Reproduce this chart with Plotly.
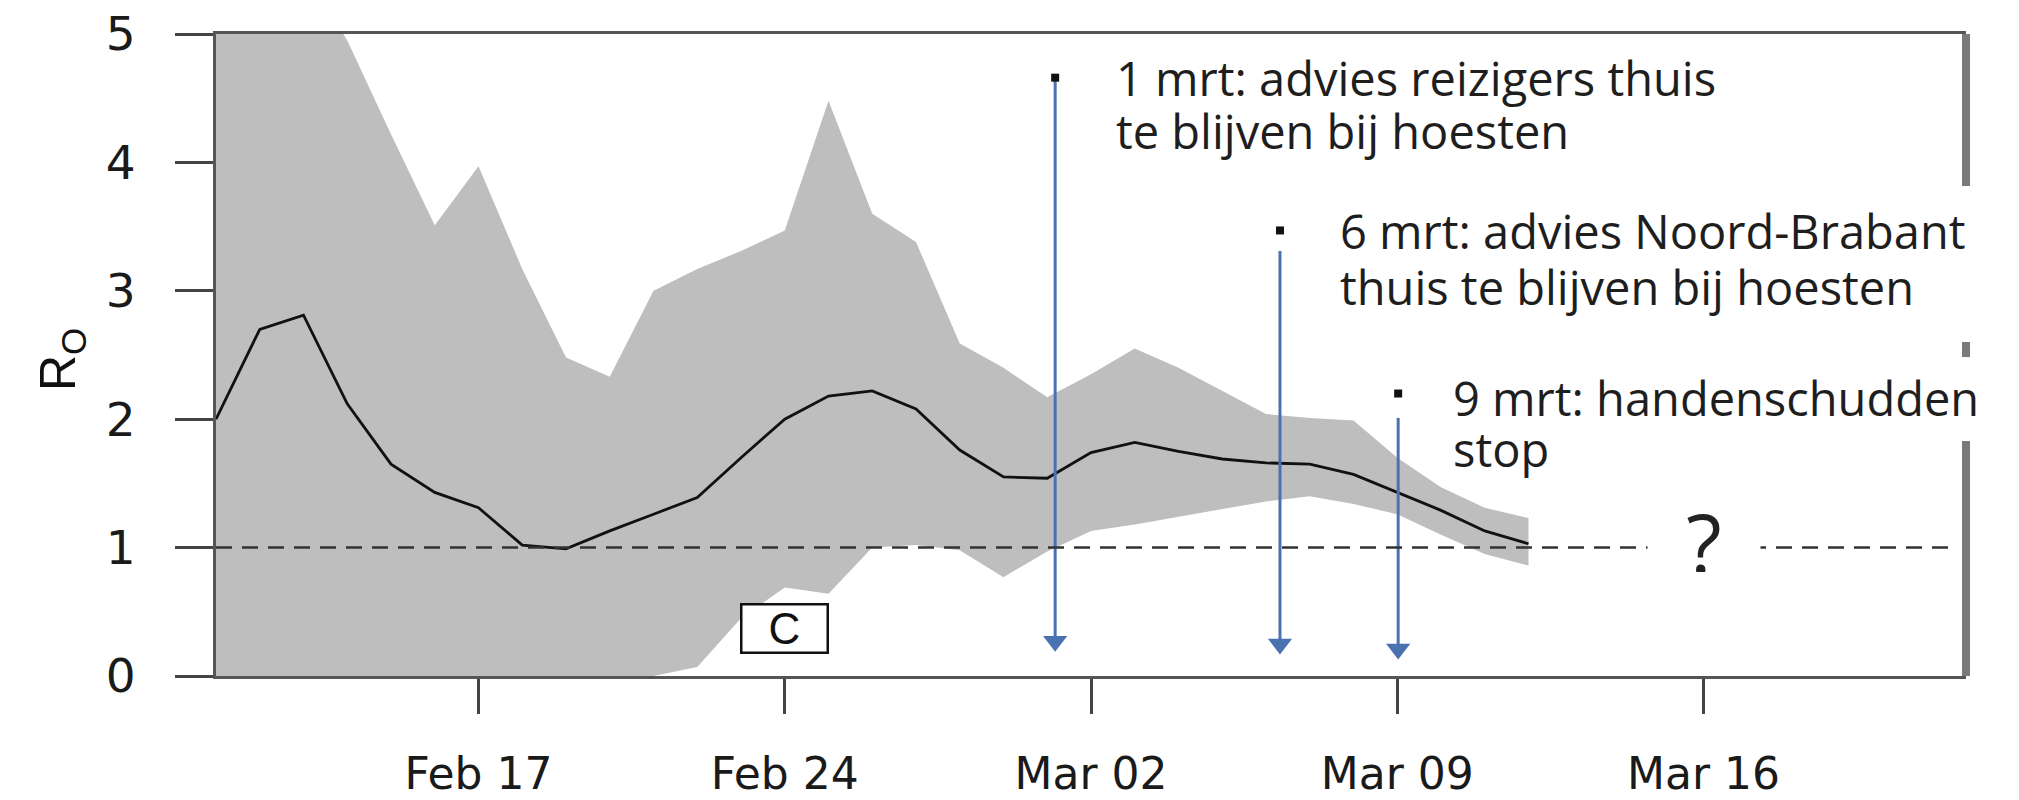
import plotly.graph_objects as go
import pandas as pd

# ---------------- data ----------------
dates = pd.date_range("2020-02-11", "2020-03-12", freq="D").strftime("%Y-%m-%d").tolist()
r_median = [2.00, 2.70, 2.81, 2.12, 1.65, 1.43, 1.31, 1.02, 0.99, 1.13,
            1.26, 1.39, 1.70, 2.00, 2.18, 2.22, 2.08, 1.76, 1.55, 1.54,
            1.74, 1.82, 1.75, 1.69, 1.66, 1.65, 1.57, 1.43, 1.29, 1.13, 1.03]
r_upper = [6.50, 6.20, 5.50, 4.95, 4.22, 3.51, 3.97, 3.17, 2.48, 2.33,
           3.00, 3.17, 3.31, 3.47, 4.48, 3.60, 3.38, 2.59, 2.40, 2.17,
           2.35, 2.55, 2.40, 2.22, 2.04, 2.01, 1.99, 1.70, 1.47, 1.31, 1.23]
r_lower = [0.00, 0.00, 0.00, 0.00, 0.00, 0.00, 0.00, 0.00, 0.00, 0.00,
           0.00, 0.07, 0.45, 0.69, 0.64, 1.00, 1.02, 0.98, 0.77, 0.97,
           1.13, 1.18, 1.24, 1.30, 1.36, 1.40, 1.34, 1.26, 1.10, 0.95, 0.86]

x_range = ["2020-02-11", "2020-03-22"]
y_range = [0, 5]
y_tick_vals = [0, 1, 2, 3, 4, 5]
x_tick_vals = ["2020-02-17", "2020-02-24", "2020-03-02", "2020-03-09", "2020-03-16"]
x_tick_text = ["Feb 17", "Feb 24", "Mar 02", "Mar 09", "Mar 16"]
threshold = 1.0

event_dates = ["2020-03-01 04:20", "2020-03-06 07:40", "2020-03-09 00:30"]
event_tail = [4.64, 3.31, 2.01]     # top of each arrow shaft
event_head = [0.27, 0.25, 0.21]     # arrow-head position
event_dot = [4.66, 3.47, 2.20]      # small black bullet above each arrow
event_lines = [
    ["1 mrt: advies reizigers thuis", "te blijven bij hoesten"],
    ["6 mrt: advies Noord-Brabant", "thuis te blijven bij hoesten"],
    ["9 mrt: handenschudden", "stop"],
]
box_c_date = "2020-02-24"
box_c_value = 0.37
question_date = "2020-03-16"
question_value = 1.04

# ---------------- layout geometry ----------------
# The page body has an 8px default margin, so the figure is drawn 8px smaller
# and all reference pixel positions are shifted by that offset.
BODY = 8
W, H = 2019 - BODY, 800 - BODY
REF_L, REF_R, REF_T, REF_B = 216, 1966, 34, 676   # plot area in page pixels
ML, MT = REF_L - BODY, REF_T - BODY
MR = W - (REF_R - BODY)
MB = H - (REF_B - BODY)
PW = REF_R - REF_L
PH = REF_B - REF_T


def px_x(px):
    return (px - REF_L) / PW


def px_y(py):
    return (REF_B - py) / PH


TXT_FONT = "Open Sans"
TXT_SIZE = 47
TXT_COLOR = "#1e1e1e"
BLUE = "#4a72b0"
TICK_FONT = "DejaVu Sans"

fig = go.Figure()

# confidence band
fig.add_trace(go.Scatter(x=dates, y=r_lower, mode="lines", line=dict(width=0),
                         hoverinfo="skip", showlegend=False))
fig.add_trace(go.Scatter(x=dates, y=r_upper, mode="lines", line=dict(width=0),
                         fill="tonexty", fillcolor="#bebebe",
                         hoverinfo="skip", showlegend=False))
# median
fig.add_trace(go.Scatter(x=dates, y=r_median, mode="lines",
                         line=dict(color="#111111", width=2.8),
                         showlegend=False))

# event arrows: shafts + heads
shaft_x, shaft_y = [], []
for d, t, h in zip(event_dates, event_tail, event_head):
    shaft_x += [d, d, None]
    shaft_y += [t, h, None]
fig.add_trace(go.Scatter(x=shaft_x, y=shaft_y, mode="lines",
                         line=dict(color=BLUE, width=3),
                         hoverinfo="skip", showlegend=False))
fig.add_trace(go.Scatter(x=event_dates, y=event_head, mode="markers",
                         marker=dict(symbol="triangle-down", size=21, color=BLUE,
                                     line=dict(width=0)),
                         hoverinfo="skip", showlegend=False))
# dots above arrows
fig.add_trace(go.Scatter(x=event_dates, y=event_dot, mode="markers",
                         marker=dict(symbol="square", size=8, color="#111111"),
                         cliponaxis=False, showlegend=False))

# dashed reference line
shapes = [
    dict(type="line", xref="x domain", yref="y", x0=0, x1=px_x(1957),
         y0=threshold, y1=threshold,
         line=dict(color="#333333", width=2.5, dash="16px,10px")),
]
# thick right frame, interrupted where the pasted text boxes cover it
right_frame_segments = [(676, 441), (357, 342), (186, 34)]   # page-pixel y spans
for y_lo, y_hi in right_frame_segments:
    shapes.append(dict(type="line", xref="x domain", yref="paper",
                       x0=1, x1=1, y0=px_y(y_lo), y1=px_y(y_hi),
                       line=dict(color="#7a7a7a", width=8)))

annotations = []
# event texts (reference page-pixel positions)
text_left = [1117, 1341, 1454]
text_centers = [[78, 131], [231, 287], [398, 449]]
for lines, left, cents in zip(event_lines, text_left, text_centers):
    for line, cy in zip(lines, cents):
        annotations.append(dict(x=px_x(left - 2), y=px_y(cy), xref="paper", yref="paper",
                                xanchor="left", yanchor="middle", align="left",
                                text=line, showarrow=False, borderpad=0,
                                font=dict(family=TXT_FONT, size=TXT_SIZE, color=TXT_COLOR)))

# question mark
annotations.append(dict(x=question_date, y=question_value, xref="x", yref="y",
                        xanchor="center", yanchor="middle",
                        text="?", showarrow=False, bgcolor="white",
                        width=108, height=60, borderpad=2,
                        font=dict(family=TXT_FONT, size=82, color="#222222")))
# C box
annotations.append(dict(x=box_c_date, y=box_c_value, xref="x", yref="y",
                        xanchor="center", yanchor="middle",
                        text="C", showarrow=False, bgcolor="white",
                        bordercolor="#111111", borderwidth=2.5, borderpad=0,
                        width=84, height=46,
                        font=dict(family="Liberation Sans", size=44, color="#111111")))
# y-axis title
annotations.append(dict(x=px_x(62), y=px_y(360), xref="paper", yref="paper",
                        xanchor="center", yanchor="middle",
                        text="R<sub>O</sub>", textangle=-90, showarrow=False,
                        font=dict(family="Liberation Sans", size=50, color="#111111")))

fig.update_layout(
    width=W, height=H,
    margin=dict(l=ML, r=MR, t=MT, b=MB, autoexpand=False),
    paper_bgcolor="white", plot_bgcolor="white",
    shapes=shapes, annotations=annotations, showlegend=False,
    xaxis=dict(type="date", range=x_range, tickmode="array",
               tickvals=x_tick_vals, ticktext=x_tick_text,
               showgrid=False, zeroline=False, automargin=False,
               showline=True, linecolor="#555555", linewidth=3, mirror=True,
               ticks="outside", ticklen=35, tickwidth=2.5, tickcolor="#444444",
               ticklabelstandoff=22, ticklabeloverflow="allow",
               tickfont=dict(family=TICK_FONT, size=44, color="#1a1a1a")),
    yaxis=dict(range=y_range, tickmode="array", tickvals=y_tick_vals,
               showgrid=False, zeroline=False, automargin=False,
               showline=True, linecolor="#555555", linewidth=3, mirror=False,
               ticks="outside", ticklen=38, tickwidth=2.5, tickcolor="#444444",
               ticklabelstandoff=30, ticklabeloverflow="allow",
               tickfont=dict(family=TICK_FONT, size=47, color="#1a1a1a")),
)

fig.write_html("out.html")
